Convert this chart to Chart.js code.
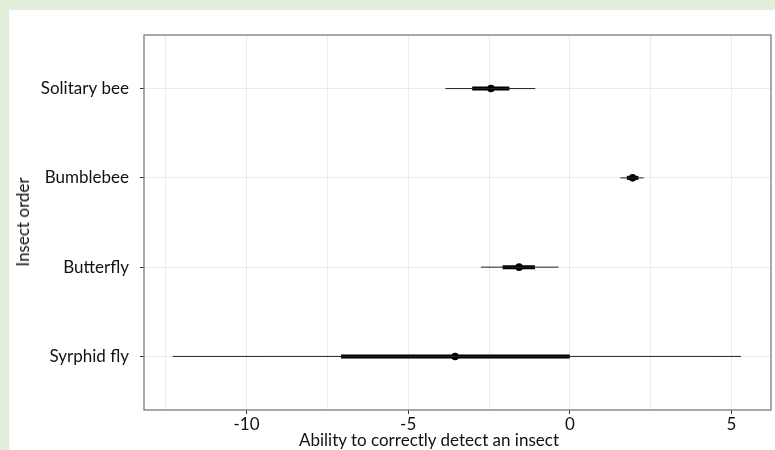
<!DOCTYPE html>
<html>
<head>
<meta charset="utf-8">
<script src="https://cdn.jsdelivr.net/npm/chart.js@4/dist/chart.umd.min.js"></script>
<style>
    html, body { margin: 0; padding: 0; }
    body { width: 775px; height: 450px; background: #e2efda; position: relative; overflow: hidden; font-family: Lato, "Open Sans", sans-serif; }
    #panel { position: absolute; left: 9px; top: 10px; width: 766px; height: 440px; background: #ffffff; }
    #chartBox { position: absolute; left: 0; top: 0; width: 766px; height: 440px; }
    .axisTitle { position: absolute; font-size: 17px; color: #111111; white-space: nowrap; line-height: 20px; }
    #xTitle { left: 420px; top: 420px; transform: translateX(-50%); }
    #yTitle { left: 14px; top: 212px; transform: translate(-50%, -50%) rotate(-90deg); }
</style>
</head>
<body>
<div id="panel">
    <div id="chartBox"><canvas id="forest"></canvas></div>
    <div class="axisTitle" id="xTitle">Ability to correctly detect an insect</div>
    <div class="axisTitle" id="yTitle">Insect order</div>
</div>
<script>
// categories listed bottom to top
const categories = ["Syrphid fly", "Butterfly", "Bumblebee", "Solitary bee"];
const estimates = [-3.55, -1.57, 1.94, -2.44];
const innerLow = [-7.08, -2.08, 1.76, -3.02];
const innerHigh = [0.0, -1.08, 2.12, -1.87];
const outerLow = [-12.28, -2.75, 1.56, -3.85];
const outerHigh = [5.29, -0.35, 2.28, -1.07];
const xTicks = [-12.5, -10, -7.5, -5, -2.5, 0, 2.5, 5];
const xLabels = [-10, -5, 0, 5];

const gridColor = "#ebebeb";
const font = { family: "Lato, 'Open Sans', sans-serif", size: 17 };

const datasets = [];
categories.forEach((c, i) => {
    datasets.push({
        data: [{ x: outerLow[i], y: i + 1 }, { x: outerHigh[i], y: i + 1 }],
        showLine: true, borderColor: "#222222", borderWidth: 1, pointRadius: 0
    });
    datasets.push({
        data: [{ x: innerLow[i], y: i + 1 }, { x: innerHigh[i], y: i + 1 }],
        showLine: true, borderColor: "#000000", borderWidth: 4, pointRadius: 0,
        borderCapStyle: "butt"
    });
});
datasets.push({
    data: estimates.map((v, i) => ({ x: v, y: i + 1 })),
    pointRadius: 3.8, backgroundColor: "#000000", borderColor: "#000000", borderWidth: 0
});

// full box round the plot area
const panelBorder = {
    id: "panelBorder",
    afterDraw(chart) {
        const a = chart.chartArea;
        const ctx = chart.ctx;
        ctx.save();
        ctx.strokeStyle = "#7a7a7a";
        ctx.lineWidth = 1.3;
        ctx.strokeRect(a.left, a.top, a.right - a.left, a.bottom - a.top);
        ctx.restore();
    }
};

new Chart(document.getElementById("forest"), {
    type: "scatter",
    data: { datasets: datasets },
    plugins: [panelBorder],
    options: {
        responsive: true,
        maintainAspectRatio: false,
        animation: false,
        layout: { padding: { top: 25, right: 3, bottom: 0, left: 0 } },
        plugins: { legend: { display: false }, tooltip: { enabled: false } },
        scales: {
            x: {
                type: "linear",
                min: -13.17,
                max: 6.22,
                afterBuildTicks: s => { s.ticks = xTicks.map(v => ({ value: v })); },
                afterFit: s => { s.height = 40; },
                border: { display: false },
                grid: {
                    color: gridColor,
                    tickLength: 4,
                    tickColor: ctx => xLabels.includes(ctx.tick.value) ? "#333333" : "rgba(0,0,0,0)"
                },
                ticks: {
                    autoSkip: false,
                    maxRotation: 0,
                    padding: 0,
                    color: "#111111",
                    font: font,
                    callback: v => xLabels.includes(v) ? String(v) : ""
                }
            },
            y: {
                type: "linear",
                min: 0.4,
                max: 4.6,
                afterBuildTicks: s => { s.ticks = categories.map((c, i) => ({ value: i + 1 })); },
                afterFit: s => { s.width = 135; },
                border: { display: false },
                grid: { color: gridColor, tickLength: 4, tickColor: "#333333" },
                ticks: {
                    padding: 11,
                    color: "#111111",
                    font: font,
                    callback: v => categories[v - 1]
                }
            }
        }
    }
});
</script>
</body>
</html>
